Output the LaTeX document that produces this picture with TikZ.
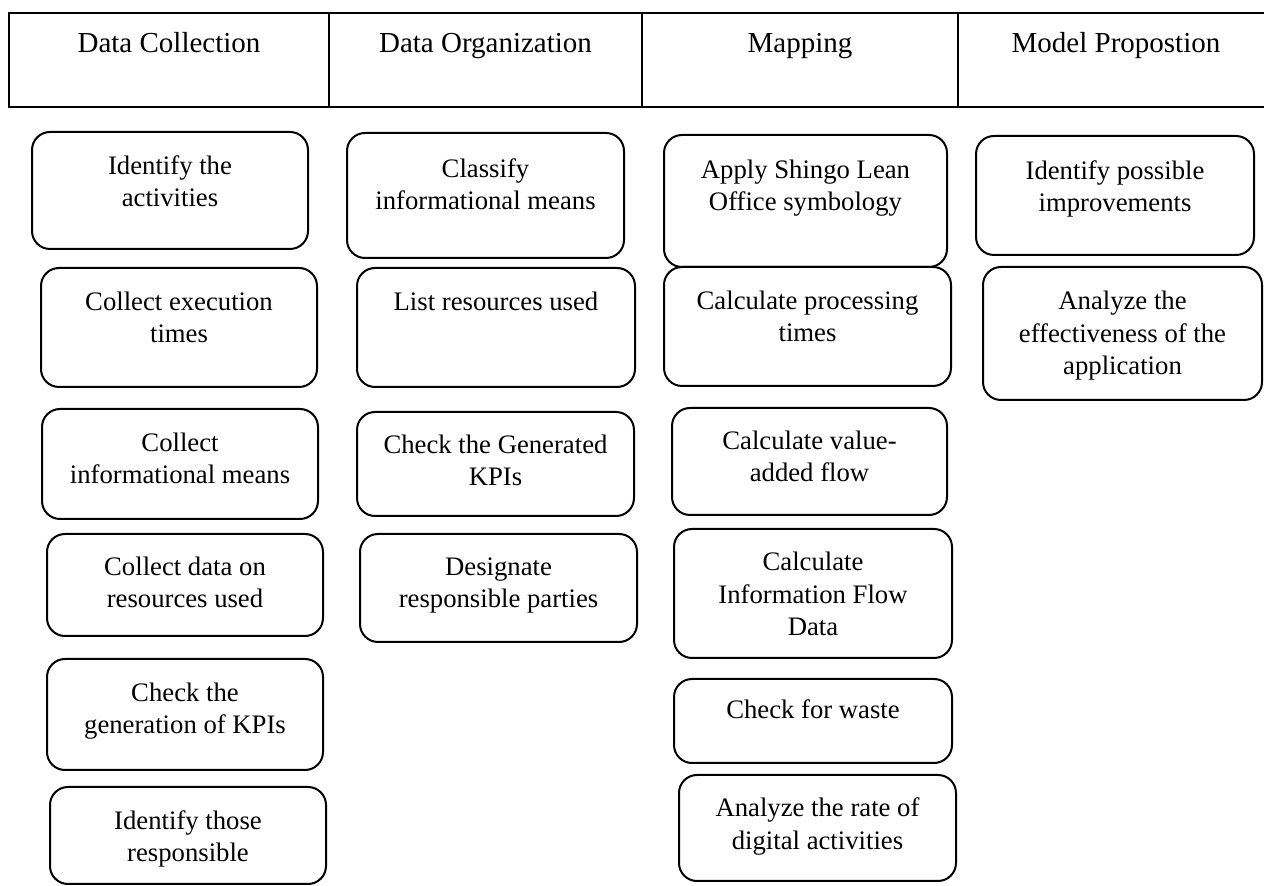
\documentclass[tikz,border=0pt]{standalone}
\usepackage{fontspec}
\setmainfont{Liberation Serif}
\usepackage{tikz}

\tikzset{
  stepbox/.style={draw, rounded corners=9pt, inner sep=0pt},
  steptext/.style={anchor=base, align=center, inner sep=0pt,
    font=\fontsize{13.35}{16.25}\selectfont},
  headtext/.style={anchor=base, inner sep=0pt, font=\fontsize{14.5}{17}\selectfont}
}

\begin{document}
\begin{tikzpicture}[x=0.5pt,y=-0.5pt,line width=1pt]
\useasboundingbox (0,0) rectangle (1264,886);

% header
\draw (9,13) rectangle (1274,107);
\draw (329,13) -- (329,107);
\draw (642,13) -- (642,107);
\draw (958,13) -- (958,107);
\node [headtext] (h1) at (169,53) {Data Collection};
\node [headtext] (h2) at (485.5,53) {Data Organization};
\node [headtext] (h3) at (800,53) {Mapping};
\node [headtext] (h4) at (1116,53) {Model Propostion};

% data collection
\node [stepbox, minimum width=138pt, minimum height=58.5pt] (a1) at (170,190.5) {};
\node [stepbox, minimum width=138pt, minimum height=59.5pt] (a2) at (179,327.5) {};
\node [stepbox, minimum width=138pt, minimum height=55pt] (a3) at (180,464) {};
\node [stepbox, minimum width=138pt, minimum height=51pt] (a4) at (185,585) {};
\node [stepbox, minimum width=138pt, minimum height=55.5pt] (a5) at (185,714.5) {};
\node [stepbox, minimum width=138pt, minimum height=48.5pt] (a6) at (188,835.5) {};
\node [steptext] (a1t) at (170,207) {Identify the\\activities};
\node [steptext] (a2t) at (179,343) {Collect execution\\times};
\node [steptext] (a3t) at (180,484) {Collect\\informational means};
\node [steptext] (a4t) at (185,608) {Collect data on\\resources used};
\node [steptext] (a5t) at (185,734) {Check the\\generation of KPIs};
\node [steptext] (a6t) at (188,862) {Identify those\\responsible};

% data organization
\node [stepbox, minimum width=138.5pt, minimum height=62.5pt] (b1) at (485.5,195.5) {};
\node [stepbox, minimum width=139pt, minimum height=59.5pt] (b2) at (496,327.5) {};
\node [stepbox, minimum width=138.5pt, minimum height=52pt] (b3) at (495.5,464) {};
\node [stepbox, minimum width=138.5pt, minimum height=54pt] (b4) at (498.5,588) {};
\node [steptext] (b1t) at (485.5,210) {Classify\\informational means};
\node [steptext] (b2t) at (496,311) {List resources used};
\node [steptext] (b3t) at (495.5,486) {Check the Generated\\KPIs};
\node [steptext] (b4t) at (498.5,608) {Designate\\responsible parties};

% mapping
\node [stepbox, minimum width=141.5pt, minimum height=66pt] (c1) at (805.5,201) {};
\node [stepbox, minimum width=143.5pt, minimum height=59.5pt] (c2) at (807.5,326.5) {};
\node [stepbox, minimum width=137.5pt, minimum height=53.5pt] (c3) at (809.5,461.5) {};
\node [stepbox, minimum width=139pt, minimum height=64.5pt] (c4) at (813,593.5) {};
\node [stepbox, minimum width=139pt, minimum height=42pt] (c5) at (813,721) {};
\node [stepbox, minimum width=138.5pt, minimum height=53pt] (c6) at (817.5,828) {};
\node [steptext] (c1t) at (805.5,211) {Apply Shingo Lean\\Office symbology};
\node [steptext] (c2t) at (807.5,342) {Calculate processing\\times};
\node [steptext] (c3t) at (809.5,482) {Calculate value-\\added flow};
\node [steptext] (c4t) at (813,636) {Calculate\\Information Flow\\Data};
\node [steptext] (c5t) at (813,719) {Check for waste};
\node [steptext] (c6t) at (817.5,849) {Analyze the rate of\\digital activities};

% model proposition
\node [stepbox, minimum width=139pt, minimum height=59.5pt] (d1) at (1115,195.5) {};
\node [stepbox, minimum width=139.5pt, minimum height=66.5pt] (d2) at (1122.5,333.5) {};
\node [steptext] (d1t) at (1115,212) {Identify possible\\improvements};
\node [steptext] (d2t) at (1122.5,375) {Analyze the\\effectiveness of the\\application};

\end{tikzpicture}
\end{document}
